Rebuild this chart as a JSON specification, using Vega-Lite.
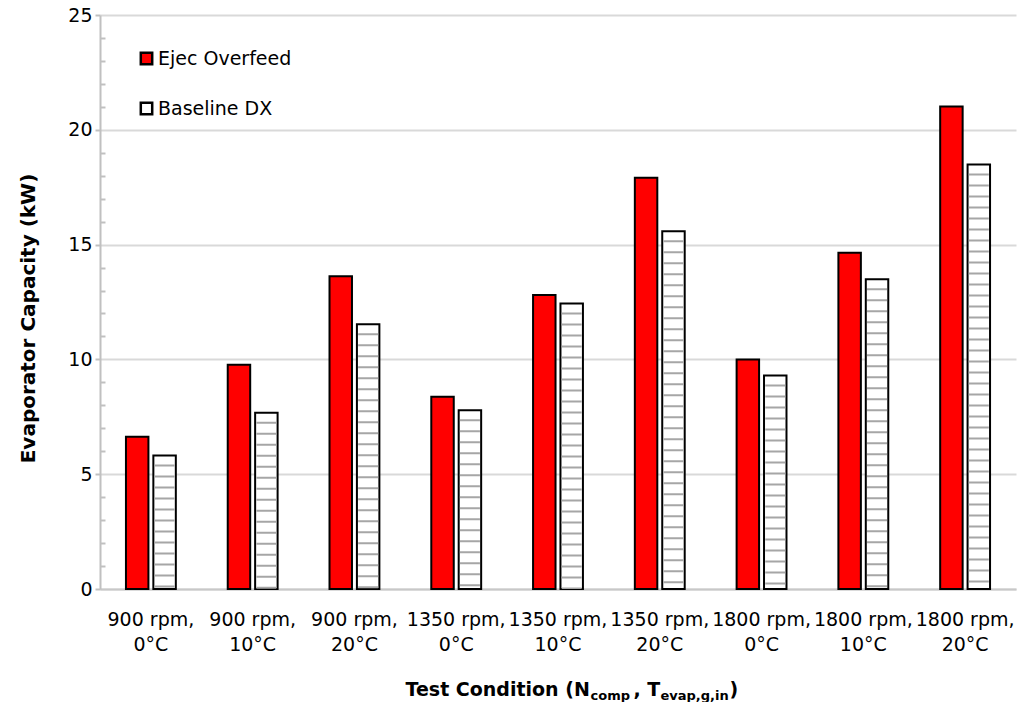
{
  "$schema": "https://vega.github.io/schema/vega-lite/v6.json",
  "width": 916,
  "height": 574,
  "autosize": "none",
  "padding": {"left": 100, "top": 15, "right": 12, "bottom": 113},
  "background": "white",
  "config": {"view": {"stroke": null}, "font": "DejaVu Sans"},
  "data": {
    "values": [
      {"condition": "900 rpm, 0°C", "series": "Ejec Overfeed", "capacity": 6.63},
      {"condition": "900 rpm, 0°C", "series": "Baseline DX", "capacity": 5.81},
      {"condition": "900 rpm, 10°C", "series": "Ejec Overfeed", "capacity": 9.77},
      {"condition": "900 rpm, 10°C", "series": "Baseline DX", "capacity": 7.68},
      {"condition": "900 rpm, 20°C", "series": "Ejec Overfeed", "capacity": 13.62},
      {"condition": "900 rpm, 20°C", "series": "Baseline DX", "capacity": 11.53},
      {"condition": "1350 rpm, 0°C", "series": "Ejec Overfeed", "capacity": 8.37},
      {"condition": "1350 rpm, 0°C", "series": "Baseline DX", "capacity": 7.79},
      {"condition": "1350 rpm, 10°C", "series": "Ejec Overfeed", "capacity": 12.81},
      {"condition": "1350 rpm, 10°C", "series": "Baseline DX", "capacity": 12.44},
      {"condition": "1350 rpm, 20°C", "series": "Ejec Overfeed", "capacity": 17.91},
      {"condition": "1350 rpm, 20°C", "series": "Baseline DX", "capacity": 15.58},
      {"condition": "1800 rpm, 0°C", "series": "Ejec Overfeed", "capacity": 10.0},
      {"condition": "1800 rpm, 0°C", "series": "Baseline DX", "capacity": 9.3},
      {"condition": "1800 rpm, 10°C", "series": "Ejec Overfeed", "capacity": 14.65},
      {"condition": "1800 rpm, 10°C", "series": "Baseline DX", "capacity": 13.49},
      {"condition": "1800 rpm, 20°C", "series": "Ejec Overfeed", "capacity": 21.02},
      {"condition": "1800 rpm, 20°C", "series": "Baseline DX", "capacity": 18.49}
    ]
  },
  "resolve": {"axis": {"x": "independent", "y": "independent"}},
  "layer": [
    {
      "transform": [{"filter": "datum.series === 'Ejec Overfeed'"}],
      "mark": {"type": "bar", "stroke": "#000000", "strokeWidth": 2},
      "encoding": {
        "x": {
          "field": "condition",
          "type": "nominal",
          "sort": null,
          "scale": {"paddingInner": 0.51, "paddingOuter": 0.255},
          "axis": {
            "orient": "bottom",
            "labelAngle": 0,
            "labelFont": "DejaVu Sans",
            "labelFontSize": 19,
            "labelColor": "#000000",
            "labelLineHeight": 25,
            "labelPadding": 21,
            "labelExpr": "[substring(datum.value, 0, indexof(datum.value, ',') + 1), substring(datum.value, indexof(datum.value, ',') + 2)]",
            "ticks": false,
            "tickSize": 0,
            "domainColor": "#c8c8c8",
            "domainWidth": 2,
            "grid": false,
            "title": "Test Condition (N",
            "titleFont": "DejaVu Sans",
            "titleFontSize": 19,
            "titleFontWeight": "bold",
            "titleColor": "#000000",
            "titleAlign": "left",
            "titleAnchor": "start",
            "titleBaseline": "alphabetic",
            "titleX": 305,
            "titleY": 106
          }
        },
        "xOffset": {
          "field": "series",
          "type": "nominal",
          "scale": {"domain": ["Ejec Overfeed", "Baseline DX"], "paddingInner": 0.18, "paddingOuter": 0}
        },
        "y": {
          "field": "capacity",
          "type": "quantitative",
          "scale": {"domain": [0, 25], "nice": false},
          "axis": {
            "orient": "left",
            "values": [0, 5, 10, 15, 20, 25],
            "labelFont": "DejaVu Sans",
            "labelFontSize": 19,
            "labelColor": "#000000",
            "labelPadding": 3,
            "tickSize": 5,
            "tickColor": "#c0c0c0",
            "tickWidth": 2,
            "domainColor": "#c0c0c0",
            "domainWidth": 2,
            "grid": true,
            "gridColor": "#d9d9d9",
            "gridWidth": 2,
            "title": "Evaporator Capacity (kW)",
            "titleFont": "DejaVu Sans",
            "titleFontSize": 20,
            "titleFontWeight": "bold",
            "titleColor": "#000000",
            "titleAngle": -90,
            "titleAlign": "center",
            "titleBaseline": "alphabetic",
            "titleX": -66,
            "titleY": 303
          }
        },
        "fill": {
          "field": "series",
          "type": "nominal",
          "scale": {"domain": ["Ejec Overfeed", "Baseline DX"], "range": ["#ff0000", "#ffffff"]},
          "legend": {
            "orient": "none",
            "legendX": 37,
            "legendY": 34,
            "title": null,
            "padding": 0,
            "symbolType": "square",
            "symbolSize": 130,
            "symbolStrokeColor": "#000000",
            "symbolStrokeWidth": 2.5,
            "labelFont": "DejaVu Sans",
            "labelFontSize": 19,
            "labelColor": "#000000",
            "labelOffset": 2,
            "rowPadding": 27
          }
        }
      }
    },
    {
      "transform": [{"filter": "datum.series === 'Baseline DX'"}],
      "mark": {"type": "bar", "stroke": "#000000", "strokeWidth": 2},
      "encoding": {
        "x": {
          "field": "condition",
          "type": "nominal",
          "sort": null,
          "axis": {
            "orient": "bottom",
            "labels": false,
            "ticks": false,
            "domain": false,
            "grid": false,
            "title": "comp",
            "titleFont": "DejaVu Sans",
            "titleFontSize": 13,
            "titleFontWeight": "bold",
            "titleColor": "#000000",
            "titleAlign": "left",
            "titleAnchor": "start",
            "titleBaseline": "alphabetic",
            "titleX": 490,
            "titleY": 110
          }
        },
        "xOffset": {"field": "series", "type": "nominal"},
        "y": {
          "field": "capacity",
          "type": "quantitative",
          "axis": {
            "orient": "left",
            "labels": false,
            "ticks": false,
            "domain": false,
            "grid": false,
            "title": ", T",
            "titleFont": "DejaVu Sans",
            "titleFontSize": 19,
            "titleFontWeight": "bold",
            "titleColor": "#000000",
            "titleAngle": 0,
            "titleAlign": "left",
            "titleAnchor": "start",
            "titleBaseline": "alphabetic",
            "titleX": 533,
            "titleY": 680
          }
        },
        "fill": {"field": "series", "type": "nominal"}
      }
    },
    {
      "transform": [{"filter": "datum.series === 'Baseline DX'"}],
      "mark": {"type": "rule", "stroke": "#a6a6a6", "strokeWidth": 20, "strokeDash": [2, 9], "strokeDashOffset": 2},
      "encoding": {
        "x": {
          "field": "condition",
          "type": "nominal",
          "sort": null,
          "axis": {
            "orient": "bottom",
            "labels": false,
            "ticks": false,
            "domain": false,
            "grid": false,
            "title": "evap,g,in",
            "titleFont": "DejaVu Sans",
            "titleFontSize": 13,
            "titleFontWeight": "bold",
            "titleColor": "#000000",
            "titleAlign": "left",
            "titleAnchor": "start",
            "titleBaseline": "alphabetic",
            "titleX": 560,
            "titleY": 110
          }
        },
        "xOffset": {"field": "series", "type": "nominal"},
        "y": {
          "field": "capacity",
          "type": "quantitative",
          "axis": {
            "orient": "left",
            "values": [1, 2, 3, 4, 6, 7, 8, 9, 11, 12, 13, 14, 16, 17, 18, 19, 21, 22, 23, 24],
            "labels": false,
            "domain": false,
            "grid": false,
            "ticks": true,
            "tickSize": -5,
            "tickColor": "#c0c0c0",
            "tickWidth": 2,
            "title": ")",
            "titleFont": "DejaVu Sans",
            "titleFontSize": 19,
            "titleFontWeight": "bold",
            "titleColor": "#000000",
            "titleAngle": 0,
            "titleAlign": "left",
            "titleAnchor": "start",
            "titleBaseline": "alphabetic",
            "titleX": 629,
            "titleY": 680
          }
        },
        "y2": {"datum": 0}
      }
    }
  ]
}
